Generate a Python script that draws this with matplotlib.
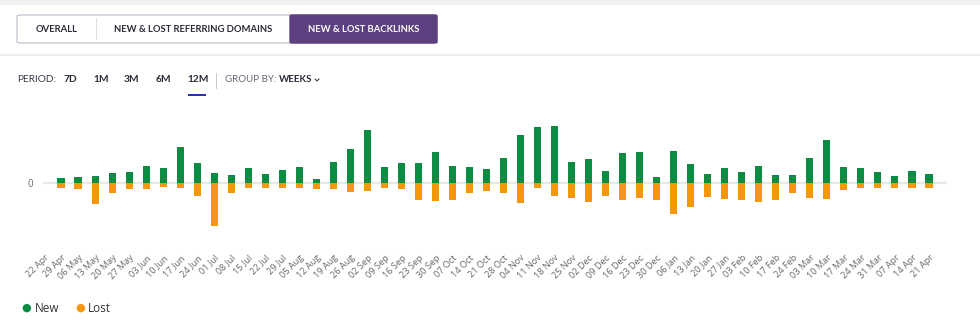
import matplotlib.pyplot as plt
from matplotlib.patches import FancyBboxPatch, Rectangle
from matplotlib.lines import Line2D
import numpy as np

# weekly labels (first week has no data)
weeks = ["22 Apr", "29 Apr", "06 May", "13 May", "20 May", "27 May", "03 Jun", "10 Jun",
         "17 Jun", "24 Jun", "01 Jul", "08 Jul", "15 Jul", "22 Jul", "29 Jul", "05 Aug",
         "12 Aug", "19 Aug", "26 Aug", "02 Sep", "09 Sep", "16 Sep", "23 Sep", "30 Sep",
         "07 Oct", "14 Oct", "21 Oct", "28 Oct", "04 Nov", "11 Nov", "18 Nov", "25 Nov",
         "02 Dec", "09 Dec", "16 Dec", "23 Dec", "30 Dec", "06 Jan", "13 Jan", "20 Jan",
         "27 Jan", "03 Feb", "10 Feb", "17 Feb", "24 Feb", "03 Mar", "10 Mar", "17 Mar",
         "24 Mar", "31 Mar", "07 Apr", "14 Apr", "21 Apr"]

new_links = [0, 4.7, 5.7, 6.7, 10, 10.7, 16.7, 15, 35.7, 20.3, 10, 8, 15, 9.3, 13.3, 15.7, 3.7,
             21, 33.7, 52.7, 15.7, 19.7, 19.7, 31.3, 16.7, 15.7, 14.3, 24.7, 47.7, 55.7, 56.7,
             21, 23.7, 12.3, 30.3, 31.3,
             5.7, 32.3, 18.7, 9.3, 15, 10.7, 16.7, 8.3, 8.3, 25.3, 42.7, 15.7, 15, 10.7, 7.3,
             11.7, 9.3]
lost_links = [0, 4.7, 5.7, 21, 9.7, 6.3, 5.7, 4.3, 4.7, 13, 43, 9.7, 4.7, 4.7, 4.7, 4.7, 5.7,
              5.7, 9, 8.3, 4.7, 5.7, 17, 17.7, 17, 9.7, 8, 9.7, 20, 4.7, 13, 15, 19, 13, 16.7, 15,
              16.7, 31, 24.3, 14, 16, 17, 19, 16.7, 9.7, 15, 16, 7.3, 4.7, 4.7, 4.7, 4.7, 4.7]

W, H = 980, 327
GREEN = "#0a8c42"
ORANGE = "#f5960d"
PURPLE = "#5c4080"


def fx(x):
    return x / W


def fy(y):
    return 1 - y / H


fig = plt.figure(figsize=(9.8, 3.27), dpi=100)
fig.patch.set_facecolor("white")

# header decorations
fig.add_artist(Rectangle((0, fy(5)), 1, 5 / H, transform=fig.transFigure,
                         facecolor="#f2f2f5", edgecolor="none"))
fig.add_artist(Rectangle((0, fy(56)), 1, 2 / H, transform=fig.transFigure,
                         facecolor="#eeeef2", edgecolor="none"))

# tab group
fig.add_artist(FancyBboxPatch((fx(17), fy(43)), (437 - 17) / W, 28 / H,
                              boxstyle="round,pad=0,rounding_size=0.004",
                              transform=fig.transFigure, facecolor="white",
                              edgecolor="#c9c9d6", linewidth=1))
fig.add_artist(FancyBboxPatch((fx(290), fy(43)), (437 - 290) / W, 28 / H,
                              boxstyle="round,pad=0,rounding_size=0.003",
                              transform=fig.transFigure, facecolor=PURPLE,
                              edgecolor=PURPLE, linewidth=1))
fig.add_artist(Rectangle((fx(96), fy(40)), 1 / W, 22 / H, transform=fig.transFigure,
                         facecolor="#dddde5", edgecolor="none"))
tab_font = dict(family="Lato", weight="bold", size=6.8, va="center", ha="center")
fig.text(fx(57), fy(30), "OVERALL", color="#2b2b3a", **tab_font)
fig.text(fx(193), fy(30), "NEW & LOST REFERRING DOMAINS", color="#2b2b3a", **tab_font)
fig.text(fx(364), fy(30), "NEW & LOST BACKLINKS", color="white", **tab_font)

# period row
row_y = fy(80)
fig.text(fx(17), row_y, "PERIOD:", family="Lato", size=7.3, color="#3a3a4a", va="center")
for lbl, x in [("7D", 64), ("1M", 93), ("3M", 124), ("6M", 156), ("12M", 187)]:
    fig.text(fx(x), row_y, lbl, family="Lato", weight="bold", size=7.3, color="#2b2b3a",
             va="center")
fig.add_artist(Rectangle((fx(188), fy(96)), 18 / W, 2 / H, transform=fig.transFigure,
                         facecolor="#2b2fb8", edgecolor="none"))
fig.add_artist(Rectangle((fx(216), fy(89)), 1 / W, 16 / H, transform=fig.transFigure,
                         facecolor="#c8c8d0", edgecolor="none"))
fig.text(fx(225), row_y, "GROUP BY:", family="Lato", size=7.0, color="#666677", va="center")
fig.text(fx(279), row_y, "WEEKS", family="Lato", weight="bold", size=7.0, color="#2b2b3a",
         va="center")
fig.add_artist(Line2D([fx(315), fx(317), fx(319)], [fy(79), fy(81), fy(79)],
                      transform=fig.transFigure, color="#2b2b3a", linewidth=0.7))

# chart area: zero line at y=183 px, category spacing ~17 px
ax_top, ax_bot = 105, 245
ax_left, ax_right = 43, 947
ax = fig.add_axes([fx(ax_left), fy(ax_bot), (ax_right - ax_left) / W, (ax_bot - ax_top) / H])
x = np.arange(len(weeks))
ax.bar(x, new_links, width=0.42, color=GREEN, zorder=3)
ax.bar(x, [-v for v in lost_links], width=0.42, color=ORANGE, zorder=3)
ax.axhline(0, color="#e8e8e8", linewidth=1.6, zorder=1)

ax.set_ylim(-(ax_bot - 183), 183 - ax_top)
ax.set_xlim(-0.06, 53.06)
for s in ax.spines.values():
    s.set_visible(False)
ax.set_yticks([0])
ax.set_yticklabels(["0"], family="Open Sans", fontsize=7, color="#666666")
ax.tick_params(axis="y", length=0, pad=7)
ax.set_xticks(x)
ax.set_xticklabels(weeks, rotation=45, ha="right", va="top", rotation_mode="anchor",
                   family="Open Sans", fontsize=6.6, color="#666666")
ax.tick_params(axis="x", length=0, pad=6)
ax.set_facecolor("none")

# legend
fig.text(fx(26), fy(308), "\u25cf", color=GREEN, fontsize=8, ha="center", va="center")
fig.text(fx(35), fy(308), "New", family="Open Sans", fontsize=8.5, color="#333333",
         va="center")
fig.text(fx(80), fy(308), "\u25cf", color=ORANGE, fontsize=8, ha="center", va="center")
fig.text(fx(88), fy(308), "Lost", family="Open Sans", fontsize=8.5, color="#333333",
         va="center")

fig.savefig("out.png", dpi=100, facecolor="white")
